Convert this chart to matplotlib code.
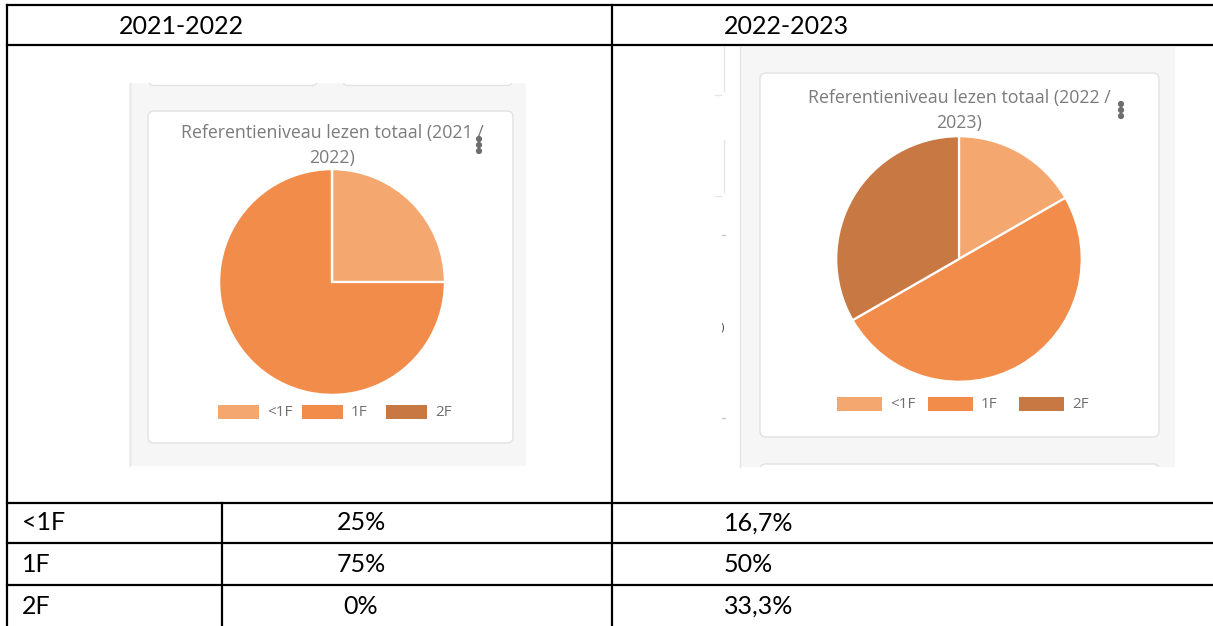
import matplotlib
matplotlib.use("Agg")
import matplotlib.pyplot as plt
from matplotlib.patches import Rectangle, FancyBboxPatch, Circle

# ---------------------------------------------------------------- data
years = ["2021-2022", "2022-2023"]
categories = ["<1F", "1F", "2F"]
share_2122 = [25, 75, 0]
share_2223 = [16.7, 50, 33.3]
chart_titles = [
    "Referentieniveau lezen totaal (2021 /\n2022)",
    "Referentieniveau lezen totaal (2022 /\n2023)",
]
slice_colors = ["#F4A76E", "#F28C4B", "#C87843"]

W, H = 1213, 626
TABLE_FONT = ["Lato", "DejaVu Sans"]
CHART_FONT = ["Open Sans", "DejaVu Sans"]


def pct(v):
    return f"{v:g}%".replace(".", ",")


fig = plt.figure(figsize=(W / 100, H / 100), dpi=100)
ax = fig.add_axes([0, 0, 1, 1])
ax.set_xlim(0, W)
ax.set_ylim(H, 0)
ax.axis("off")


def screenshot(bg, card, cx, cy, r, title, title_y, dots, legend, values):
    """Draw a dashboard screenshot: grey page, white card, title, pie, legend."""
    bx0, by0, bx1, by1 = bg
    page = Rectangle((bx0, by0), bx1 - bx0, by1 - by0, facecolor="#F6F6F6",
                     edgecolor="none", zorder=1)
    ax.add_patch(page)
    x0, y0, x1, y1 = card
    ax.add_patch(FancyBboxPatch((x0, y0), x1 - x0, y1 - y0,
                                boxstyle="round,pad=0,rounding_size=6",
                                facecolor="white", edgecolor="#E2E2E2",
                                linewidth=1.0, zorder=2))
    t1, t2 = title.split("\n")
    ax.text(cx, title_y, t1, ha="center", va="center", fontsize=12.8,
            color="#7B7B7B", family=CHART_FONT, zorder=3)
    ax.text(cx, title_y + 25, t2, ha="center", va="center", fontsize=12.8,
            color="#7B7B7B", family=CHART_FONT, zorder=3)
    dx, dy = dots
    for k in range(3):
        ax.add_patch(Circle((dx, dy + k * 6), 2.4, color="#6E6E6E", zorder=4))

    pax = fig.add_axes([(cx - r) / W, 1 - (cy + r) / H, 2 * r / W, 2 * r / H])
    pax.pie(values, colors=slice_colors, startangle=90, counterclock=False,
            radius=1, wedgeprops=dict(edgecolor="white", linewidth=1.6))
    pax.set_xlim(-1.01, 1.01)
    pax.set_ylim(-1.01, 1.01)
    pax.set_aspect("auto")
    pax.axis("off")

    lx, ly, sw, sh, step = legend
    for i, (cat, col) in enumerate(zip(categories, slice_colors)):
        sx = lx + i * step
        ax.add_patch(Rectangle((sx, ly - sh / 2), sw, sh, facecolor=col,
                               edgecolor="none", zorder=3))
        ax.text(sx + sw + 8, ly, cat, ha="left", va="center", fontsize=11,
                color="#707070", family=CHART_FONT, zorder=3)
    return page


# ---------------------------------------------------------------- left screenshot
page_l = screenshot(bg=(129, 83, 526, 466), card=(148, 111, 513, 443),
                    cx=332, cy=282, r=114, title=chart_titles[0], title_y=133,
                    dots=(479, 139), legend=(218, 412, 41, 14, 84),
                    values=share_2122)
ax.plot([129.5, 129.5], [83, 466], color="#E6E6E6", linewidth=1.0, zorder=2)
# bottoms of cards above (cut off at top of the screenshot)
for x0, x1 in [(149, 317), (343, 512)]:
    p = FancyBboxPatch((x0, 50), x1 - x0, 35.5, boxstyle="round,pad=0,rounding_size=5",
                       facecolor="white", edgecolor="#E2E2E2", linewidth=1.0, zorder=2)
    ax.add_patch(p)
    p.set_clip_path(page_l)

# ---------------------------------------------------------------- right screenshot
ax.add_patch(Rectangle((715, 47), 25, 420, facecolor="white", edgecolor="none", zorder=1))
page_r = screenshot(bg=(740, 47, 1175, 467), card=(760, 73, 1159, 437),
                    cx=959, cy=259, r=124, title=chart_titles[1], title_y=98,
                    dots=(1121, 104), legend=(837, 404, 45, 14, 91),
                    values=share_2223)
ax.plot([740, 740], [47, 467], color="#E4E4E4", linewidth=1.0, zorder=2)
for y0, y1 in [(47, 95), (140, 196)]:
    ax.plot([724, 724], [y0, y1 - 4], color="#E6E6E6", linewidth=1.0, zorder=2)
    ax.plot([715, 721], [y1, y1], color="#E6E6E6", linewidth=1.0, zorder=2)
for y in (235, 418):
    ax.plot([722, 725], [y, y], color="#C8C8C8", linewidth=1.0, zorder=2)
ax.text(722, 327, ")", ha="center", va="center", fontsize=7, color="#333333", zorder=2)
p = FancyBboxPatch((760, 464), 399, 40, boxstyle="round,pad=0,rounding_size=6",
                   facecolor="white", edgecolor="#E2E2E2", linewidth=1.0, zorder=2)
ax.add_patch(p)
p.set_clip_path(page_r)

# ---------------------------------------------------------------- table
lw = 1.6
ax.plot([7, W], [5, 5], color="black", lw=lw, zorder=5)
ax.plot([7, W], [45, 45], color="black", lw=lw, zorder=5)
ax.plot([7, 7], [5, H], color="black", lw=lw, zorder=5)
ax.plot([612, 612], [5, H], color="black", lw=lw, zorder=5)
ax.plot([222, 222], [503, H], color="black", lw=lw, zorder=5)
row_lines = [503, 543, 585]
for y in row_lines:
    ax.plot([7, W], [y, y], color="black", lw=lw, zorder=5)

ax.text(181, 26, years[0], ha="center", va="center", fontsize=18,
        family=TABLE_FONT, color="black")
ax.text(724, 26, years[1], ha="left", va="center", fontsize=18,
        family=TABLE_FONT, color="black")

row_mid = [523, 564, 606]
for i, cat in enumerate(categories):
    ax.text(22, row_mid[i], cat, ha="left", va="center", fontsize=18,
            family=TABLE_FONT, color="black")
    ax.text(361, row_mid[i], pct(share_2122[i]), ha="center", va="center",
            fontsize=18, family=TABLE_FONT, color="black")
    ax.text(724, row_mid[i], pct(share_2223[i]), ha="left", va="center",
            fontsize=18, family=TABLE_FONT, color="black")

fig.savefig("out.png", dpi=100)
